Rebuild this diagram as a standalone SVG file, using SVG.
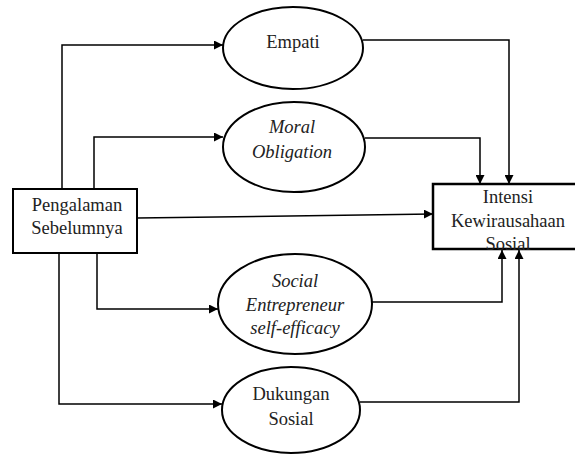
<svg xmlns="http://www.w3.org/2000/svg" width="575" height="459" viewBox="0 0 575 459">
<defs>
<marker id="ah" viewBox="0 0 10 10" refX="10" refY="5" markerWidth="9" markerHeight="9" markerUnits="userSpaceOnUse" orient="auto">
<path d="M0,0 L10,5 L0,10 Z" fill="#000"/>
</marker>
</defs>
<style>
.n{fill:#fff;stroke:#000;stroke-width:2}
.b{fill:#fff;stroke:#000;stroke-width:2.5}
.c{fill:none;stroke:#000;stroke-width:1.5;marker-end:url(#ah)}
text{font-size:18.5px;fill:#222;text-anchor:middle}
.i{font-style:italic}
</style>
<rect width="575" height="459" fill="#fff"/>
<g id="connectors">
<path class="c" d="M62,190 V45 H223"/>
<path class="c" d="M94,190 V137 H223"/>
<path class="c" d="M137,218 L433,214"/>
<path class="c" d="M97,254 V309 H218"/>
<path class="c" d="M59,254 V404 H222"/>
<path class="c" d="M363,40 H509 V184"/>
<path class="c" d="M365,138 H480 V184"/>
<path class="c" d="M372,302 H502 V250"/>
<path class="c" d="M360,402 H519 V250"/>
</g>
<g font-family="'Liberation Serif', 'Times New Roman', serif">
<g id="pengalaman">
<rect class="n" x="13" y="189" width="124" height="64"/>
<text x="77" y="211">Pengalaman</text>
<text x="77" y="234">Sebelumnya</text>
</g>
<g id="empati">
<ellipse class="n" cx="293" cy="48" rx="70" ry="41"/>
<text x="293" y="48">Empati</text>
</g>
<g id="moral">
<ellipse class="n" cx="294" cy="147" rx="71" ry="45"/>
<text class="i" x="292" y="133">Moral</text>
<text class="i" x="292" y="158">Obligation</text>
</g>
<g id="social">
<ellipse class="n" cx="295" cy="304" rx="77" ry="50"/>
<text class="i" x="295" y="287">Social</text>
<text class="i" x="295" y="311">Entrepreneur</text>
<text class="i" x="295" y="334">self-efficacy</text>
</g>
<g id="dukungan">
<ellipse class="n" cx="291" cy="410" rx="69" ry="43"/>
<text x="291" y="400">Dukungan</text>
<text x="291" y="425">Sosial</text>
</g>
<g id="intensi">
<rect class="b" x="433" y="184" width="150" height="65"/>
<text x="508" y="203">Intensi</text>
<text x="508" y="227">Kewirausahaan</text>
<text x="508" y="250">Sosial</text>
</g>
</g>
</svg>
